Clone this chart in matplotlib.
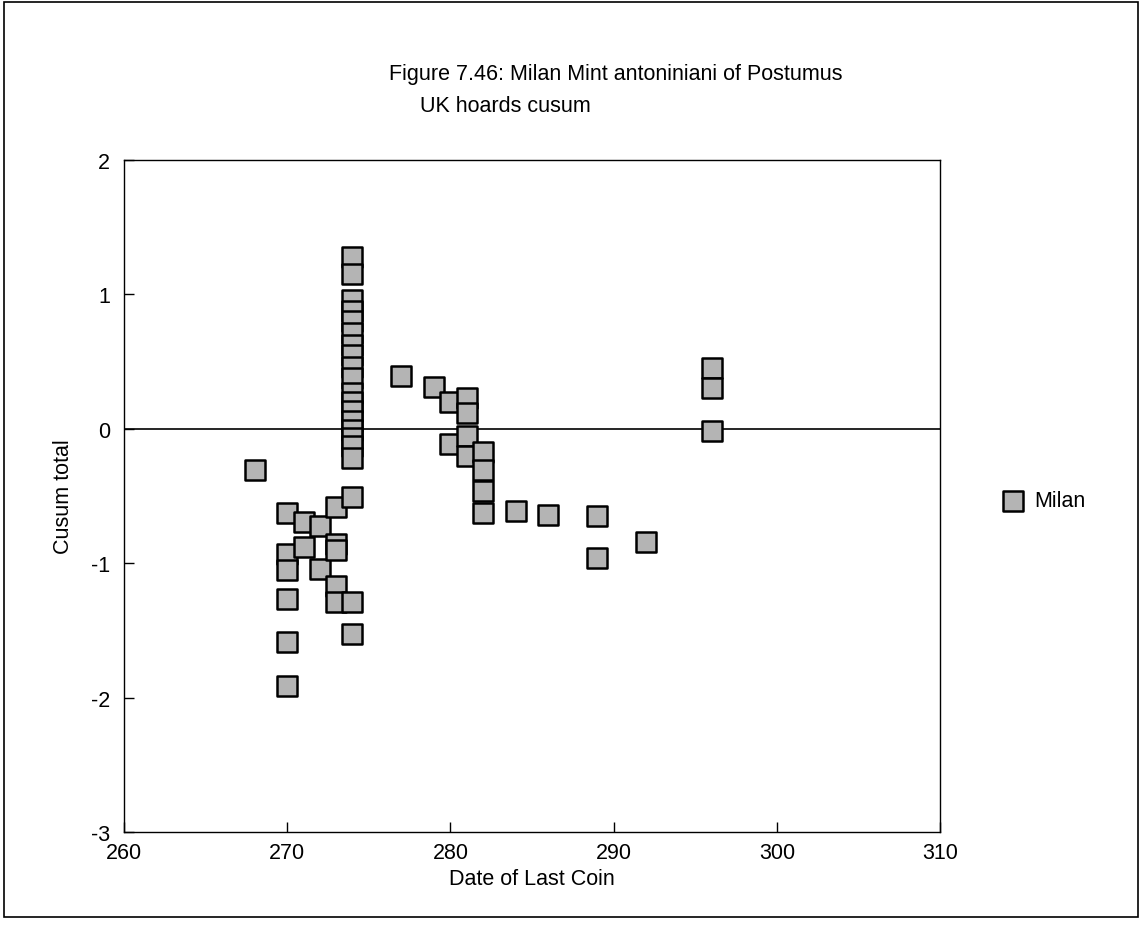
import matplotlib
matplotlib.use("Agg")
import matplotlib.pyplot as plt
from matplotlib.patches import Rectangle

# ---- data ----
date_last_coin = [268,
                  270, 270, 270, 270, 270, 270,
                  271, 271,
                  272, 272,
                  273, 273, 273, 273, 273,
                  274, 274, 274,
                  274, 274, 274, 274, 274, 274, 274, 274, 274,
                  274, 274, 274, 274, 274, 274, 274, 274, 274,
                  277, 279, 280, 280,
                  281, 281, 281, 281,
                  282, 282, 282, 282,
                  284, 286, 289, 289, 292,
                  296, 296, 296]
cusum_total = [-0.31,
               -0.63, -0.93, -1.05, -1.27, -1.59, -1.91,
               -0.69, -0.88,
               -0.72, -1.04,
               -0.58, -0.86, -0.90, -1.17, -1.29,
               -0.51, -1.29, -1.53,
               1.28, 1.15, 0.96, 0.88, 0.80, 0.71, 0.62, 0.55, 0.46,
               0.38, 0.27, 0.20, 0.13, 0.06, -0.01, -0.07, -0.13, -0.22,
               0.39, 0.31, 0.20, -0.11,
               0.23, 0.12, -0.05, -0.20,
               -0.17, -0.31, -0.46, -0.63,
               -0.61, -0.64, -0.65, -0.96, -0.84,
               0.45, 0.30, -0.02]
series_name = "Milan"
x_ticks = [260, 270, 280, 290, 300, 310]
y_ticks = [-3, -2, -1, 0, 1, 2]

plt.rcParams['font.family'] = ['Liberation Sans', 'DejaVu Sans']

fig = plt.figure(figsize=(11.44, 9.28), dpi=100)
ax = fig.add_axes([124/1144, 1-833/928, (940-124)/1144, (833-161)/928])

ax.axhline(0, color='black', lw=1.2, zorder=1)
ax.scatter(date_last_coin, cusum_total, marker='s', s=210, facecolor='#b4b4b4',
           edgecolor='black', linewidths=1.8, zorder=3, label=series_name)

ax.set_xlim(260, 310)
ax.set_ylim(-3, 2)
ax.set_xticks(x_ticks)
ax.set_yticks(y_ticks)
ax.set_xticklabels([str(t) for t in x_ticks])
ax.set_yticklabels([str(t) for t in y_ticks])
ax.tick_params(direction='in', length=7, width=1, labelsize=15.5, color='black')
ax.tick_params(axis='x', pad=7)
ax.tick_params(axis='y', pad=10)
for sp in ax.spines.values():
    sp.set_linewidth(1.0)
    sp.set_color('black')

ax.set_xlabel("Date of Last Coin", fontsize=15.5, labelpad=4)
ax.set_ylabel("Cusum total", fontsize=15.5, labelpad=12)

fig.text(616/1144, 1-75/928, "Figure 7.46: Milan Mint antoniniani of Postumus",
         ha='center', va='center', fontsize=15.5)
fig.text(505/1144, 1-107/928, "UK hoards cusum", ha='center', va='center', fontsize=15.5)

fig.legend(loc='center left', bbox_to_anchor=(972/1144, 1-502/928), frameon=False,
           fontsize=15.5, handletextpad=0.0, markerscale=0.95)

fig.patches.append(Rectangle((4/1144, 1-918/928), (1138-4)/1144, (918-3)/928,
                             transform=fig.transFigure, fill=False,
                             edgecolor='black', lw=1.2))

fig.savefig("out.png", dpi=100, facecolor='white')
